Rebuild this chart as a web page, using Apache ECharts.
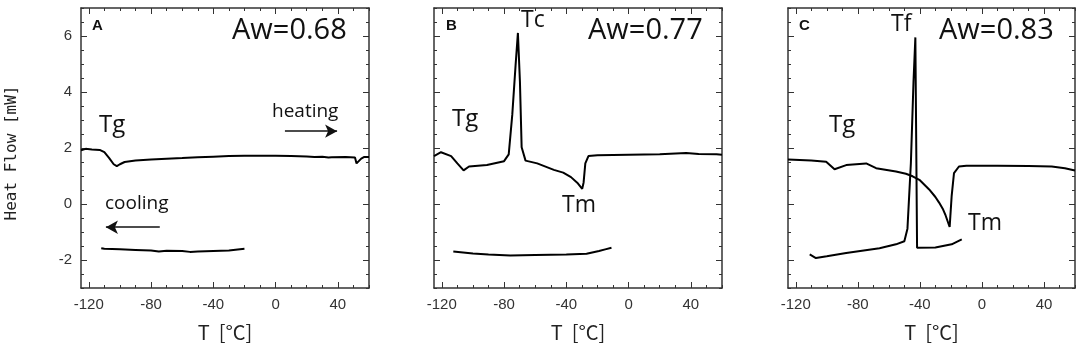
<!DOCTYPE html>
<html>
<head>
<meta charset="utf-8">
<script src="https://cdn.jsdelivr.net/npm/echarts@6/dist/echarts.min.js"></script>
<style>
 html,body{margin:0;padding:0;background:#fff;}
 #dsc{width:1084px;height:347px;}
</style>
</head>
<body>
<div id="dsc"></div>
<script>
// tick positions
var majorX = [-120, -80, -40, 0, 40];
var minorX = [-120, -110, -100, -90, -80, -70, -60, -50, -40, -30, -20, -10, 0, 10, 20, 30, 40, 50, 60];
var majorY = [-2, 0, 2, 4, 6];
var minorY = [-3, -2.5, -2, -1.5, -1, -0.5, 0, 0.5, 1, 1.5, 2, 2.5, 3, 3.5, 4, 4.5, 5, 5.5, 6, 6.5, 7];

// Aw=0.68
var heatA = [[-125,1.92],[-122,1.97],[-118,1.95],[-113,1.93],[-110,1.85],[-107,1.65],[-104,1.42],[-102,1.35],[-100,1.42],[-97,1.5],[-90,1.55],[-80,1.59],[-70,1.62],[-60,1.64],[-50,1.67],[-40,1.69],[-30,1.71],[-20,1.72],[-10,1.72],[0,1.72],[10,1.71],[20,1.7],[25,1.68],[30,1.69],[34,1.66],[35,1.6],[36,1.67],[45,1.68],[51,1.66],[52,1.45],[53,1.5],[55,1.62],[57,1.68],[60,1.68]];
var coolA = [[-112,-1.58],[-110,-1.6],[-100,-1.62],[-90,-1.64],[-80,-1.66],[-75,-1.7],[-70,-1.67],[-60,-1.68],[-55,-1.71],[-50,-1.7],[-40,-1.68],[-30,-1.66],[-20,-1.6]];
// Aw=0.77
var heatB = [[-125,1.71],[-120.5,1.85],[-114,1.71],[-110,1.45],[-106,1.2],[-102.5,1.34],[-91,1.39],[-80,1.53],[-77,1.77],[-74.7,3.2],[-72.6,4.95],[-71.1,6.11],[-69.8,4.37],[-68.7,2.03],[-66.2,1.55],[-58.7,1.45],[-48,1.22],[-42,1.12],[-37,0.96],[-33,0.76],[-29.8,0.54],[-28.9,0.77],[-27.8,1.45],[-25.8,1.71],[-20,1.74],[0,1.76],[20,1.78],[37,1.82],[45,1.79],[56.5,1.78],[60,1.76]];
var coolB = [[-112.6,-1.7],[-100,-1.77],[-90,-1.8],[-76,-1.84],[-60,-1.82],[-40,-1.8],[-27,-1.78],[-19,-1.68],[-15,-1.62],[-11,-1.56]];
// Aw=0.83
var heatC = [[-125,1.59],[-110,1.55],[-100.4,1.51],[-95,1.24],[-87.5,1.39],[-74.6,1.45],[-68.2,1.28],[-55.4,1.16],[-49,1.08],[-44.7,0.99],[-40,0.85],[-34,0.52],[-30,0.25],[-27.6,0.05],[-25,-0.2],[-23.4,-0.41],[-20.8,-0.82],[-19.5,0.29],[-18,1.1],[-14.8,1.34],[-10,1.37],[10,1.37],[30,1.36],[45,1.34],[53.5,1.28],[60,1.2]];
var coolC = [[-111,-1.8],[-107,-1.93],[-100,-1.87],[-87.5,-1.75],[-66,-1.58],[-55.4,-1.44],[-50,-1.33],[-48,-0.88],[-45.8,1.45],[-44.1,4.37],[-42.9,5.95],[-42.3,5.95],[-41.8,-1.56],[-41,-1.58],[-30,-1.55],[-19.5,-1.44],[-13,-1.26]];

var grids = [
    {left: 81, top: 8, width: 288, height: 286},
    {left: 434, top: 8, width: 288, height: 286},
    {left: 788, top: 8, width: 287, height: 286}
];
var boxColor = '#333';
var lblFont = 'Liberation Sans';

// tiny extend helper
var $ = {extend: function(a, b){ var o = {}; for (var k in a) o[k] = a[k]; for (var k2 in b) o[k2] = b[k2]; return o; }};

var xAxes = [], yAxes = [];
var makeAxes = function(gi){
    var base = {gridIndex: gi, type: 'value', min: -125, max: 60, splitLine: {show: false}};
    // bottom, with labels
    xAxes.push($.extend(base, {
        position: 'bottom',
        axisLine: {show: true, onZero: false, lineStyle: {color: boxColor, width: 1.5}},
        axisTick: {show: true, inside: true, length: 6, customValues: majorX, lineStyle: {color: boxColor}},
        axisLabel: {show: true, customValues: majorX, color: '#333', fontFamily: lblFont, fontSize: 15, margin: 9},
        name: 'T  [°C]', nameLocation: 'middle', nameGap: 34,
        nameTextStyle: {fontFamily: 'Noto Sans CJK JP', fontSize: 20, color: '#222'}
    }));
    xAxes.push($.extend(base, {
        position: 'bottom',
        axisLine: {show: false, onZero: false},
        axisTick: {show: true, inside: true, length: 3, customValues: minorX, lineStyle: {color: boxColor}},
        axisLabel: {show: false}
    }));
    xAxes.push($.extend(base, {
        position: 'top',
        axisLine: {show: true, onZero: false, lineStyle: {color: boxColor, width: 1.5}},
        axisTick: {show: true, inside: true, length: 6, customValues: majorX, lineStyle: {color: boxColor}},
        axisLabel: {show: false}
    }));
    xAxes.push($.extend(base, {
        position: 'top',
        axisLine: {show: false, onZero: false},
        axisTick: {show: true, inside: true, length: 3, customValues: minorX, lineStyle: {color: boxColor}},
        axisLabel: {show: false}
    }));

    var ybase = {gridIndex: gi, type: 'value', min: -3, max: 7, splitLine: {show: false}};
    yAxes.push($.extend(ybase, {
        position: 'left',
        axisLine: {show: true, onZero: false, lineStyle: {color: boxColor, width: 1.5}},
        axisTick: {show: true, inside: true, length: 6, customValues: majorY, lineStyle: {color: boxColor}},
        axisLabel: {show: gi === 0, customValues: majorY, color: '#333', fontFamily: lblFont, fontSize: 15, margin: 9}
    }));
    yAxes.push($.extend(ybase, {
        position: 'left',
        axisLine: {show: false, onZero: false},
        axisTick: {show: true, inside: true, length: 3, customValues: minorY, lineStyle: {color: boxColor}},
        axisLabel: {show: false}
    }));
    yAxes.push($.extend(ybase, {
        position: 'right',
        axisLine: {show: true, onZero: false, lineStyle: {color: boxColor, width: 1.5}},
        axisTick: {show: true, inside: true, length: 6, customValues: majorY, lineStyle: {color: boxColor}},
        axisLabel: {show: false}
    }));
    yAxes.push($.extend(ybase, {
        position: 'right',
        axisLine: {show: false, onZero: false},
        axisTick: {show: true, inside: true, length: 3, customValues: minorY, lineStyle: {color: boxColor}},
        axisLabel: {show: false}
    }));
};

makeAxes(0); makeAxes(1); makeAxes(2);

var curve = function(gi, data, extra){
    var s = {
        type: 'line', xAxisIndex: gi * 4, yAxisIndex: gi * 4, data: data,
        showSymbol: false, symbol: 'none', silent: true,
        lineStyle: {color: '#000', width: 2}
    };
    if (extra) s.markLine = extra;
    return s;
};

var arrow = function(from, to){
    return {
        silent: true, symbol: ['none', 'arrow'], symbolSize: [10, 12],
        label: {show: false},
        lineStyle: {color: '#111', width: 1.5, type: 'solid'},
        data: [[{coord: from}, {coord: to}]]
    };
};

var txt = function(x, y, s, size, opts){
    var o = {
        type: 'text', left: x, top: y,
        style: {text: s, fontFamily: 'Open Sans', fontSize: size, fill: '#111'}
    };
    if (opts) for (var k in opts) o.style[k] = opts[k];
    return o;
};

var chart = echarts.init(document.getElementById('dsc'));
var option = {
    animation: false,
    backgroundColor: '#fff',
    grid: grids,
    xAxis: xAxes,
    yAxis: yAxes,
    series: [
        curve(0, heatA, arrow([6, 2.6], [39.5, 2.6])),
        curve(0, coolA, arrow([-74.4, -0.83], [-109, -0.83])),
        curve(1, heatB),
        curve(1, coolB),
        curve(2, heatC),
        curve(2, coolC)
    ],
    graphic: [
        // vertical y-axis title
        {
            type: 'text', x: 4, y: 153, rotation: Math.PI / 2,
            style: {text: 'Heat Flow [mW]', fontFamily: 'DejaVu Sans Mono', fontSize: 16, fill: '#222', align: 'center', verticalAlign: 'top'}
        },
        txt(92, 18, 'A', 15, {fontFamily: 'Liberation Sans', fontWeight: 'bold'}),
        txt(446, 18, 'B', 15, {fontFamily: 'Liberation Sans', fontWeight: 'bold'}),
        txt(799, 18, 'C', 15, {fontFamily: 'Liberation Sans', fontWeight: 'bold'}),
        txt(232, 16, 'Aw=0.68', 29),
        txt(588, 16, 'Aw=0.77', 29),
        txt(939, 16, 'Aw=0.83', 29),
        txt(99, 113, 'Tg', 24),
        txt(272, 102, 'heating', 19),
        txt(105, 194, 'cooling', 19),
        txt(521, 9, 'Tc', 23),
        txt(452, 107, 'Tg', 24),
        txt(562, 194, 'Tm', 23),
        txt(891, 13, 'Tf', 23),
        txt(829, 113, 'Tg', 24),
        txt(968, 212, 'Tm', 23)
    ]
};
chart.setOption(option);
</script>
</body>
</html>
